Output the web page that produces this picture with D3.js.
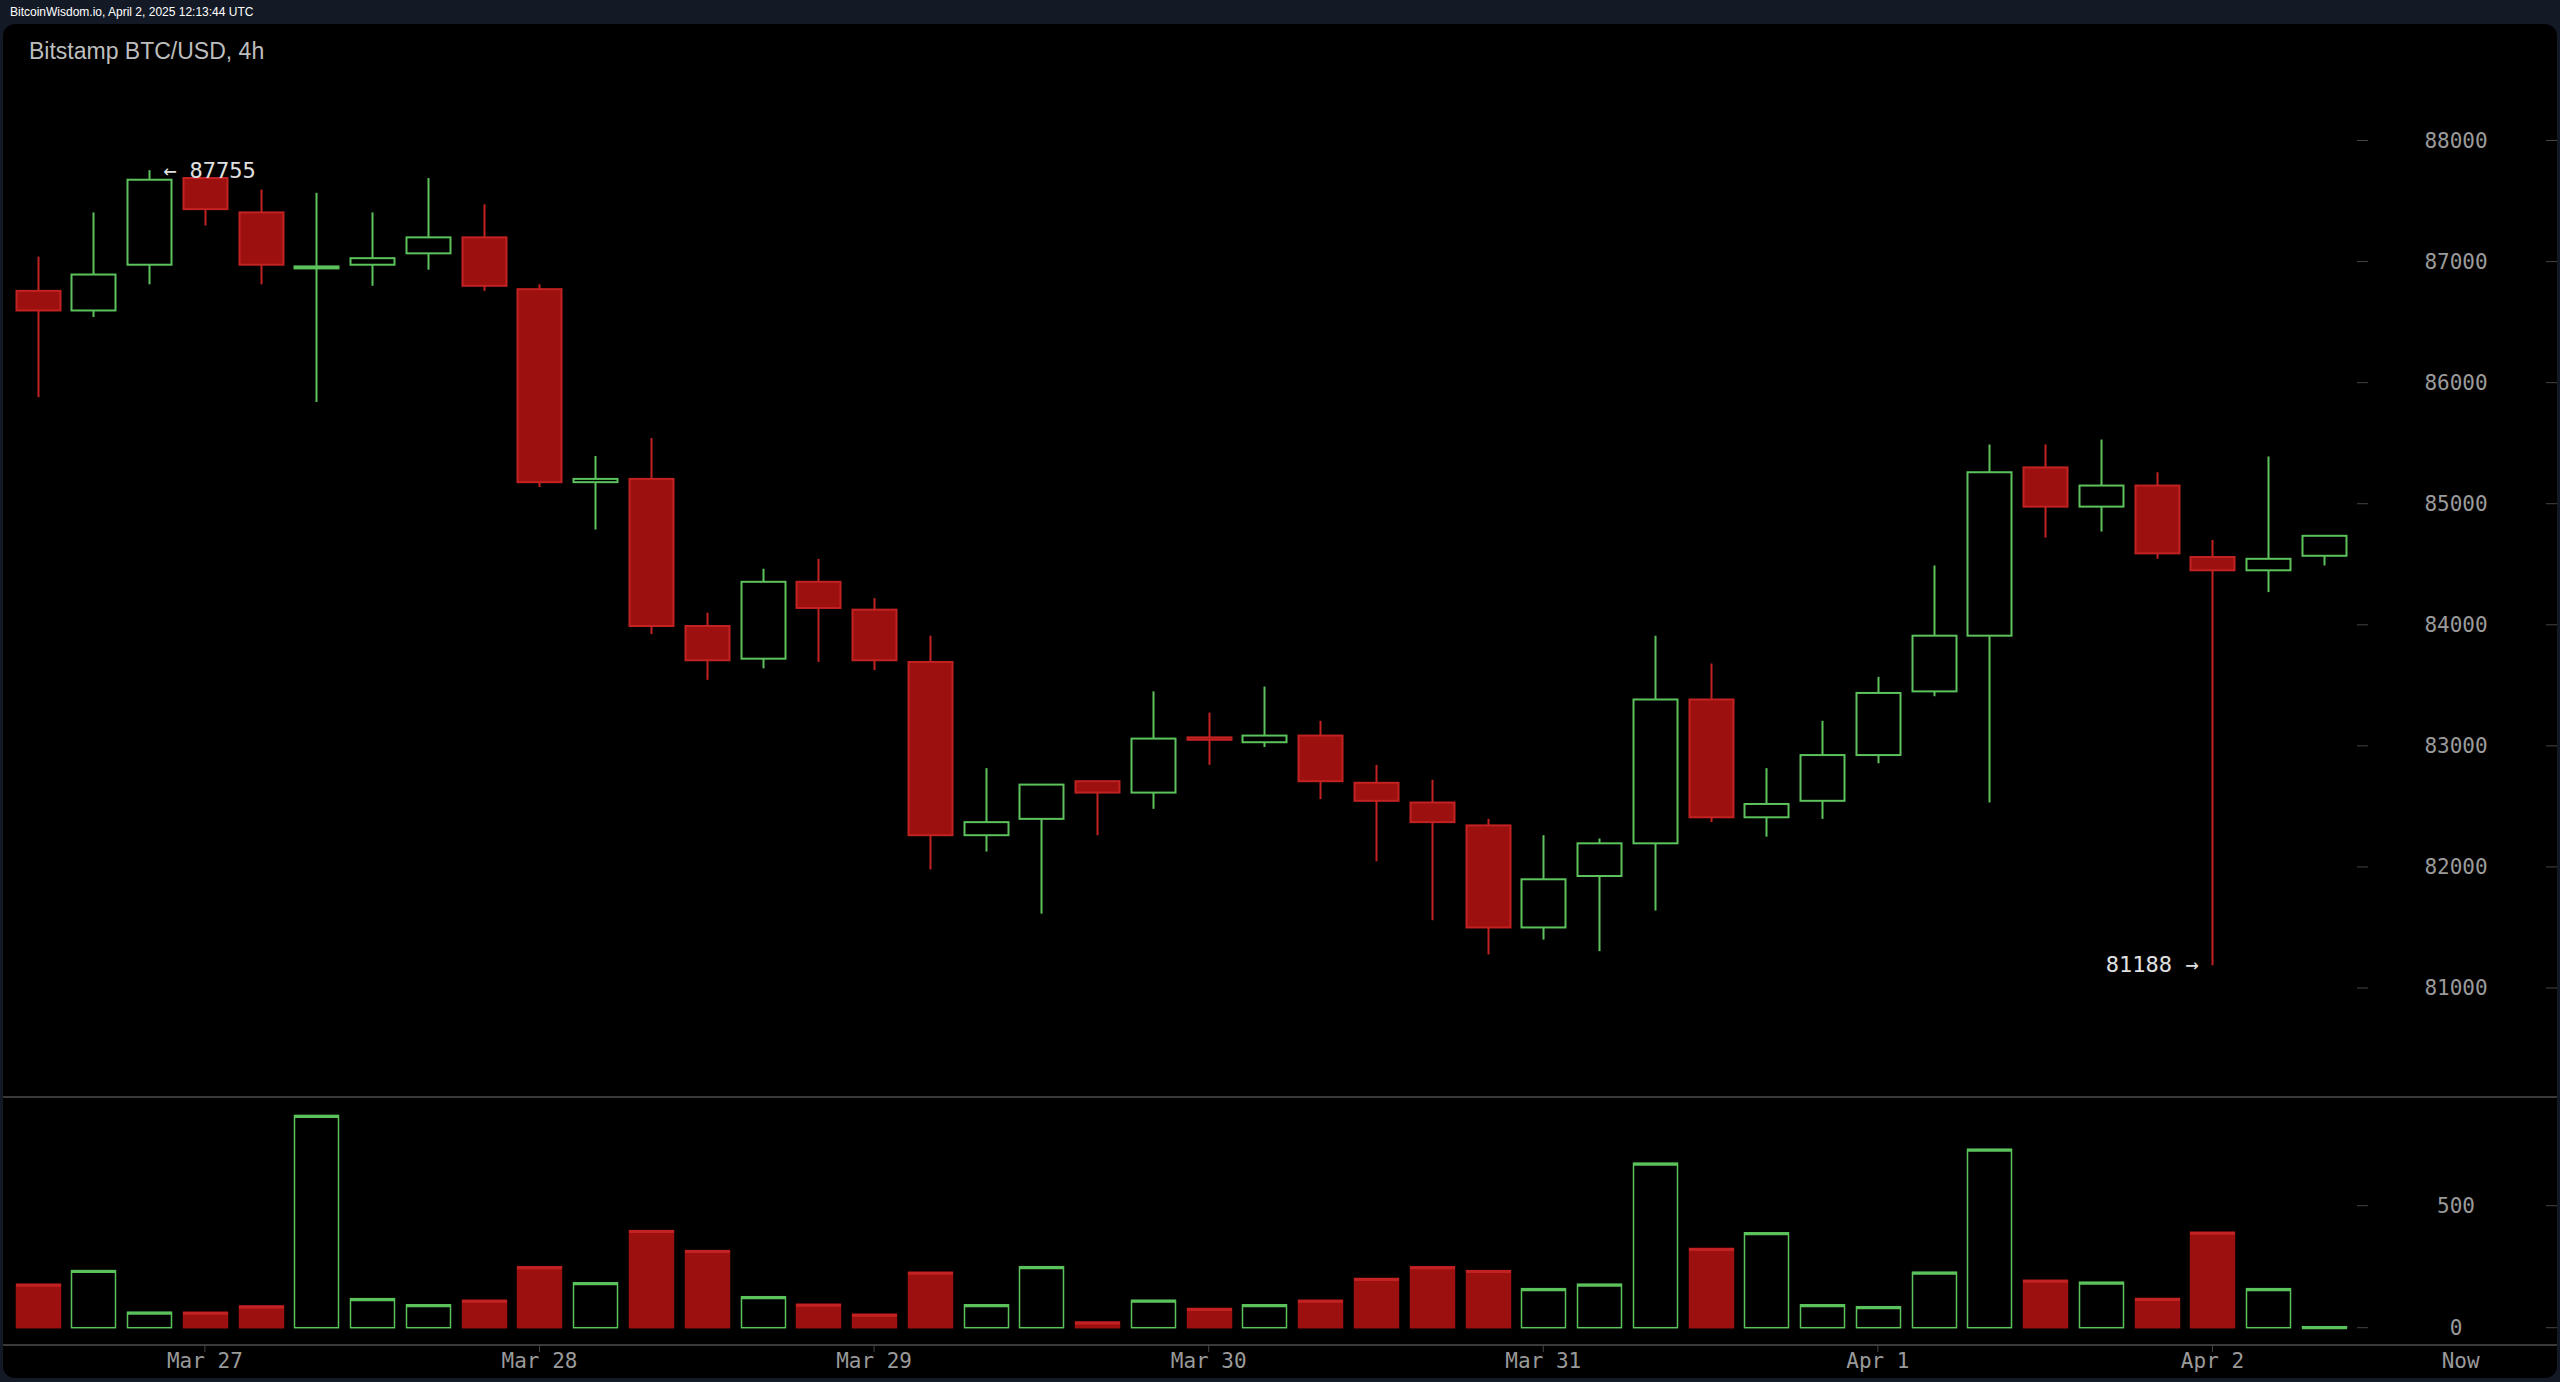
<!DOCTYPE html>
<html>
<head>
<meta charset="utf-8">
<script src="https://cdn.jsdelivr.net/npm/d3@7"></script>
<style>
body { margin:0; background:#131a26; overflow:hidden; }
</style>
</head>
<body>
<svg id="chart" width="2560" height="1382"></svg>
<script>
// 4h candles, Mar 26 12:00 -> Apr 2 08:00
var opens  = [86758,86596,86974,87690,87406,86950,86974,87068,87200,86772,85178,85205,83990,83720,84355,84125,83693,82262,82397,82708,82614,83070,83030,83085,82695,82532,82343,81500,81925,82195,83383,82410,82546,82924,83450,83910,85300,84976,85150,84560,84450,84570];
var closes = [86596,86893,87676,87433,86974,86960,87028,87200,86800,85178,85205,83990,83707,84355,84139,83707,82262,82370,82680,82614,83060,83050,83085,82708,82546,82370,81500,81898,82195,83383,82410,82520,82924,83437,83910,85260,84976,85150,84590,84450,84545,84735];
var highs  = [87041,87406,87755,87700,87595,87568,87406,87690,87473,86812,85394,85543,84100,84463,84544,84220,83910,82816,82680,82708,83450,83275,83490,83207,82843,82720,82397,82262,82235,83910,83680,82816,83207,83570,84490,85490,85490,85530,85260,84700,85390,84735];
var lows   = [85880,86542,86812,87298,86812,85840,86800,86933,86758,85138,84787,83923,83545,83640,83693,83626,81979,82127,81614,82262,82480,82843,82990,82560,82046,81560,81277,81400,81304,81640,82370,82250,82397,82856,83410,82532,84720,84770,84545,81188,84270,84490];
var volumes = [178,234,63,63,89,870,119,94,112,250,184,398,316,127,96,55,227,94,250,23,112,79,94,112,202,250,234,160,178,674,325,389,94,86,227,731,194,186,120,391,160,4];
var dayLabels = ["Mar 27","Mar 28","Mar 29","Mar 30","Mar 31","Apr 1","Apr 2"];
var dayIndex = [3,9,15,21,27,33,39];
var priceTicks = [81000,82000,83000,84000,85000,86000,87000,88000];
var volTicks = [0,500];

var svg = d3.select("#chart");
var RED = "#9c1010", RED_S = "#c32222", GREEN = "#5cc25c";

// panel
svg.append("rect").attr("x",3).attr("y",24).attr("width",2554).attr("height",1354).attr("rx",12).attr("fill","#000");
svg.append("text").attr("x",10).attr("y",16).attr("fill","#fff").attr("font-family","Liberation Sans, Arial").attr("font-size",12)
  .text("BitcoinWisdom.io, April 2, 2025 12:13:44 UTC");
svg.append("text").attr("x",29).attr("y",59).attr("fill","#bdbdbd").attr("font-family","Liberation Sans, Arial").attr("font-size",23)
  .text("Bitstamp BTC/USD, 4h");

var x = d3.scaleLinear().domain([0,41]).range([37.6,2324]);
var y = d3.scaleLinear().domain([81000,88000]).range([988,140.5]);
var yv = d3.scaleLinear().domain([0,500]).range([1327.7,1205.7]);
var bw = 44;

// separators
svg.append("line").attr("x1",3).attr("x2",2557).attr("y1",1097).attr("y2",1097).attr("stroke","#3a3a3a").attr("stroke-width",2);
svg.append("line").attr("x1",3).attr("x2",2557).attr("y1",1345).attr("y2",1345).attr("stroke","#3a3a3a").attr("stroke-width",2);

var mono = "DejaVu Sans Mono, monospace";
// price axis
var pa = svg.append("g");
priceTicks.forEach(function(t){
  pa.append("line").attr("x1",2357).attr("x2",2368).attr("y1",y(t)).attr("y2",y(t)).attr("stroke","#444");
  pa.append("line").attr("x1",2546).attr("x2",2557).attr("y1",y(t)).attr("y2",y(t)).attr("stroke","#444");
  pa.append("text").attr("x",2456).attr("y",y(t)+7).attr("text-anchor","middle").attr("fill","#9a9a9a")
    .attr("font-family",mono).attr("font-size",21).text(t);
});
volTicks.forEach(function(t){
  pa.append("line").attr("x1",2357).attr("x2",2368).attr("y1",yv(t)).attr("y2",yv(t)).attr("stroke","#444");
  pa.append("line").attr("x1",2546).attr("x2",2557).attr("y1",yv(t)).attr("y2",yv(t)).attr("stroke","#444");
  pa.append("text").attr("x",2456).attr("y",yv(t)+7).attr("text-anchor","middle").attr("fill","#9a9a9a")
    .attr("font-family",mono).attr("font-size",21).text(t);
});
// date axis
dayIndex.forEach(function(d,i){
  svg.append("line").attr("x1",x(d)).attr("x2",x(d)).attr("y1",1345).attr("y2",1352).attr("stroke","#444");
  svg.append("text").attr("x",x(d)).attr("y",1368).attr("text-anchor","middle").attr("fill","#9a9a9a")
    .attr("font-family",mono).attr("font-size",21).text(dayLabels[i]);
});
svg.append("text").attr("x",x(43.45)).attr("y",1368).attr("text-anchor","middle").attr("fill","#9a9a9a")
  .attr("font-family",mono).attr("font-size",21).text("Now");

// candles
var data = opens.map(function(o,i){ return {i:i,o:o,c:closes[i],h:highs[i],l:lows[i],v:volumes[i],up:closes[i]>=o}; });
var g = svg.append("g");
g.selectAll(".wick").data(data).enter().append("line")
  .attr("x1",function(d){return Math.round(x(d.i))+0.5;}).attr("x2",function(d){return Math.round(x(d.i))+0.5;})
  .attr("y1",function(d){return y(d.h);}).attr("y2",function(d){return y(d.l);})
  .attr("stroke",function(d){return d.up?GREEN:RED_S;}).attr("stroke-width",2);
g.selectAll(".body").data(data).enter().append("rect")
  .attr("x",function(d){return Math.round(x(d.i))-bw/2+0.5;})
  .attr("y",function(d){return y(Math.max(d.o,d.c));})
  .attr("width",bw)
  .attr("height",function(d){return Math.max(2,Math.abs(y(d.o)-y(d.c)));})
  .attr("fill",function(d){return d.up?"#000":RED;})
  .attr("stroke",function(d){return d.up?GREEN:RED_S;}).attr("stroke-width",2);

// volume
g.selectAll(".vol").data(data).enter().append("rect")
  .attr("x",function(d){return Math.round(x(d.i))-bw/2+0.5;})
  .attr("y",function(d){return yv(d.v);})
  .attr("width",bw)
  .attr("height",function(d){return yv(0)-yv(d.v);})
  .attr("fill",function(d){return d.up?"#000":RED;})
  .attr("stroke",function(d){return d.up?GREEN:RED;}).attr("stroke-width",1.5);
g.selectAll(".cap").data(data).enter().append("line")
  .attr("x1",function(d){return Math.round(x(d.i))-bw/2;}).attr("x2",function(d){return Math.round(x(d.i))+bw/2+1;})
  .attr("y1",function(d){return yv(d.v)+1;}).attr("y2",function(d){return yv(d.v)+1;})
  .attr("stroke",function(d){return d.up?GREEN:RED_S;}).attr("stroke-width",3);

// high / low annotations
var hiIdx = d3.maxIndex(highs), loIdx = d3.minIndex(lows);
svg.append("text").attr("x",x(hiIdx)+14).attr("y",y(highs[hiIdx])+8).attr("fill","#e0e0e0")
  .attr("font-family",mono).attr("font-size",22).text("\u2190 " + highs[hiIdx]);
svg.append("text").attr("x",x(loIdx)-14).attr("y",y(lows[loIdx])+7).attr("text-anchor","end").attr("fill","#e0e0e0")
  .attr("font-family",mono).attr("font-size",22).text(lows[loIdx] + " \u2192");
</script>
</body>
</html>
